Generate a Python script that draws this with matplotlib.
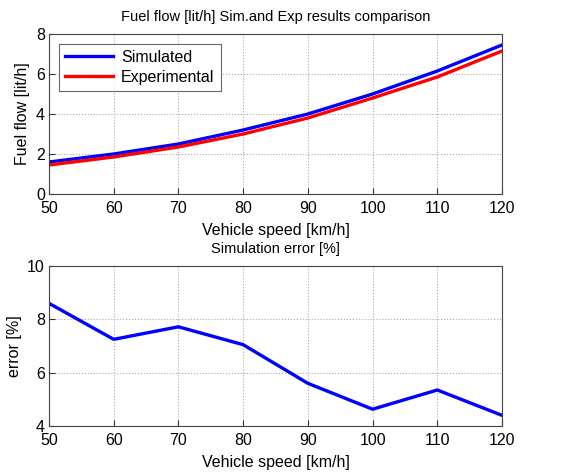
import matplotlib
matplotlib.use("Agg")
import matplotlib.pyplot as plt

plt.rcParams['font.family'] = ['Liberation Sans', 'DejaVu Sans']

speed = [50, 60, 70, 80, 90, 100, 110, 120]
simulated = [1.6, 2.0, 2.5, 3.2, 4.0, 5.0, 6.15, 7.45]
experimental = [1.45, 1.85, 2.35, 3.0, 3.8, 4.8, 5.85, 7.15]
error = [8.6, 7.25, 7.72, 7.05, 5.6, 4.63, 5.35, 4.4]

W, H = 582, 472
fig = plt.figure(figsize=(W / 100, H / 100), dpi=100)
fig.patch.set_facecolor('white')

def box(l, t, r, b):
    return [l / W, 1 - b / H, (r - l) / W, (b - t) / H]

ax1 = fig.add_axes(box(49, 34, 502, 194))
ax2 = fig.add_axes(box(49, 266, 502, 426))

def style(ax):
    ax.grid(True, linestyle=':', color='#aaaaaa', linewidth=0.8)
    ax.tick_params(direction='in', labelsize=11.5, length=4, color='#333333')
    ax.tick_params(axis='x', pad=5)
    ax.tick_params(axis='y', pad=3)
    for s in ax.spines.values():
        s.set_color('#444444')
        s.set_linewidth(0.8)
    ax.set_xlim(50, 120)
    ax.set_xticks(speed)

ax1.plot(speed, simulated, color='#0000ff', linewidth=2.4, label='Simulated')
ax1.plot(speed, experimental, color='#ff0000', linewidth=2.4, label='Experimental')
style(ax1)
ax1.set_ylim(0, 8)
ax1.set_yticks([0, 2, 4, 6, 8])
ax1.set_title('Fuel flow [lit/h] Sim.and Exp results comparison', fontsize=10.5, pad=9)
ax1.set_xlabel('Vehicle speed [km/h]', fontsize=11.5, labelpad=5)
ax1.set_ylabel('Fuel flow [lit/h]', fontsize=11.5, labelpad=4)
leg = ax1.legend(loc='upper left', fontsize=11.5, frameon=True, fancybox=False,
                 edgecolor='#444444', handlelength=3.0, borderaxespad=0.6,
                 labelspacing=0.3, handletextpad=0.5)
leg.get_frame().set_linewidth(0.8)

ax2.plot(speed, error, color='#0000ff', linewidth=2.4)
style(ax2)
ax2.set_ylim(4, 10)
ax2.set_yticks([4, 6, 8, 10])
ax2.set_title('Simulation error [%]', fontsize=10.5, pad=9)
ax2.set_xlabel('Vehicle speed [km/h]', fontsize=11.5, labelpad=5)
ax2.set_ylabel('error [%]', fontsize=11.5, labelpad=4)

fig.savefig('out.png', dpi=100)
